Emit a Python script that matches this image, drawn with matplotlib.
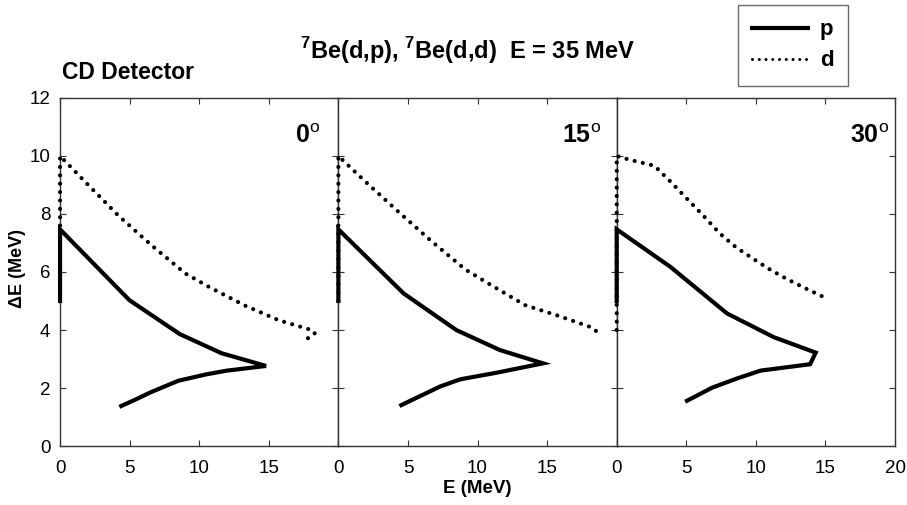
import matplotlib.pyplot as plt
from matplotlib.lines import Line2D

plt.rcParams['font.family'] = ['Liberation Sans', 'DejaVu Sans']
plt.rcParams['mathtext.fontset'] = 'custom'
plt.rcParams['mathtext.rm'] = 'Liberation Sans'
plt.rcParams['mathtext.bf'] = 'Liberation Sans:bold'

# -----------------------
# data (E, dE in MeV)
# -----------------------
angles = ["0", "15", "30"]
label_x = [16.9, 16.1, 16.8]

p_E = [
    [0, 0, 4.98, 8.6, 11.6, 14.8, 12.0, 10.5, 8.5, 6.5, 5.5, 4.4],
    [0, 0, 4.69, 8.47, 11.6, 14.7, 11.4, 8.76, 7.3, 4.52],
    [0, 0, 3.85, 7.93, 11.3, 14.3, 13.9, 10.34, 8.65, 6.85, 5.05],
]
p_dE = [
    [5.0, 7.47, 5.03, 3.86, 3.2, 2.76, 2.6, 2.47, 2.25, 1.85, 1.62, 1.38],
    [5.0, 7.47, 5.26, 4.0, 3.31, 2.85, 2.53, 2.3, 2.05, 1.41],
    [5.0, 7.47, 6.18, 4.57, 3.75, 3.22, 2.82, 2.6, 2.33, 2.01, 1.56],
]

d_E = [
    [0, 0, 1.8, 4.2, 6.6, 9.0, 10.8, 13.3, 15.7, 17.5, 18.2, 18.3, 17.7],
    [0, 0, 1.82, 4.26, 6.67, 9.11, 10.9, 13.4, 15.8, 17.0, 18.25, 18.76],
    [0, 0, 1.0, 2.15, 2.72, 3.92, 5.1, 6.25, 7.4, 8.6, 9.86, 11.06, 12.26, 13.46, 14.73],
]
d_dE = [
    [5.0, 10.0, 9.11, 7.94, 6.91, 5.95, 5.46, 4.84, 4.34, 4.08, 3.98, 3.88, 3.68],
    [5.0, 10.0, 9.17, 8.1, 7.07, 6.09, 5.57, 4.86, 4.49, 4.29, 4.08, 3.86],
    [4.0, 10.0, 9.86, 9.73, 9.66, 9.09, 8.5, 7.93, 7.33, 6.84, 6.44, 6.07, 5.75, 5.46, 5.17],
]

xticks = [0, 5, 10, 15, 20]
yticks = [0, 2, 4, 6, 8, 10, 12]

# -----------------------
# plot
# -----------------------
fig, axes = plt.subplots(1, 3, figsize=(9.07, 5.05), dpi=100, sharey=True)
fig.subplots_adjust(left=0.0662, right=0.9868, bottom=0.1168, top=0.806, wspace=0)

dots = (0, (0.01, 2.0))
for i, ax in enumerate(axes):
    ax.plot(d_E[i], d_dE[i], color='black', lw=3.0, linestyle=dots,
            dash_capstyle='round', clip_on=False, zorder=3)
    ax.plot(p_E[i], p_dE[i], color='black', lw=3.0, solid_joinstyle='miter',
            clip_on=False, zorder=3)
    ax.set_xlim(0, 20)
    ax.set_ylim(0, 12)
    ax.set_xticks(xticks)
    if i < 2:
        ax.set_xticklabels([str(t) for t in xticks[:-1]] + [""])
    ax.set_yticks(yticks)
    ax.tick_params(direction='in', top=True, right=True, length=4,
                   labelsize=13.5, width=0.8, pad=10, color='#333333')
    ax.tick_params(axis='y', pad=7)
    for s in ax.spines.values():
        s.set_linewidth(1.0)
        s.set_color('#333333')
    ax.text(label_x[i], 10.45, angles[i] + r"$^{\rm o}$", fontsize=18,
            fontweight='bold', ha='left', va='baseline')

axes[0].set_ylabel("ΔE (MeV)", fontsize=13, fontweight='bold')
axes[0].yaxis.set_label_coords(-0.122, 0.51)
axes[1].set_xlabel("E (MeV)", fontsize=13.5, fontweight='bold', labelpad=2)

fig.text(0.0684, 0.8436, "CD Detector", fontsize=16.5, fontweight='bold',
         va='baseline')
fig.text(0.331, 0.883, r"$^{\mathbf{7}}$Be(d,p), $^{\mathbf{7}}$Be(d,d)  E = 35 MeV",
         fontsize=17, fontweight='bold', ha='left', va='baseline')

handles = [Line2D([], [], color='black', lw=3.0),
           Line2D([], [], color='black', lw=2.2, linestyle=(0, (0.01, 2.2)),
                  dash_capstyle='round')]
leg = fig.legend(handles, ["p", "d"], loc='upper right',
                 bbox_to_anchor=(0.935, 0.990), prop={'weight': 'bold', 'size': 16},
                 handlelength=2.5, fancybox=False, edgecolor='#444444',
                 borderpad=0.65, labelspacing=0.45, handletextpad=0.55,
                 borderaxespad=0)
leg.get_frame().set_linewidth(1.0)

plt.savefig("out.png", dpi=100)
